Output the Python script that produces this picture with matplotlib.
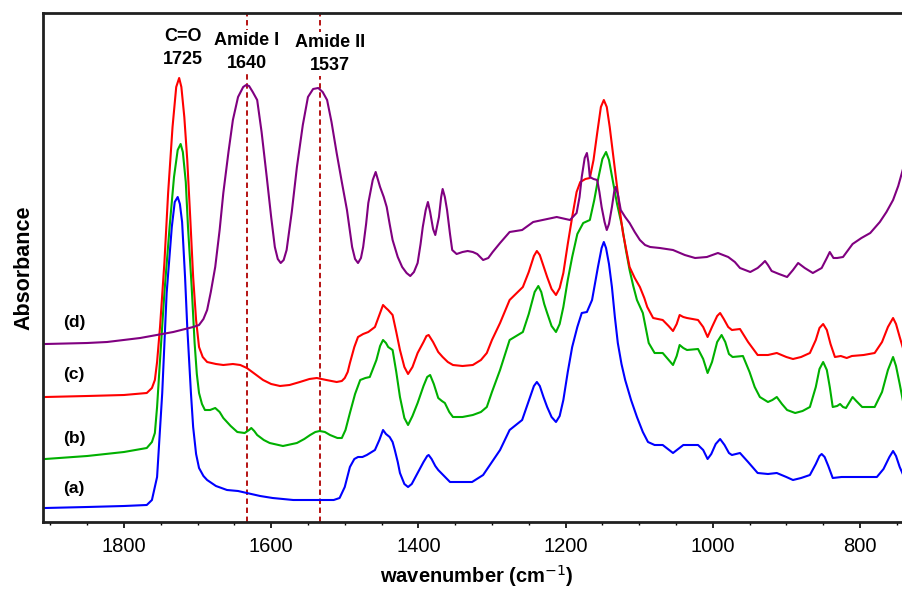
#!/usr/bin/env python3
"""FTIR spectra of the four samples, stacked with offsets."""

import matplotlib
matplotlib.use("Agg")
import matplotlib.pyplot as plt
from matplotlib.ticker import MultipleLocator

plt.rcParams["font.family"] = ["Liberation Sans", "DejaVu Sans"]

# wavenumber (cm-1) / absorbance (a.u., offset already included)
WN_A = [1907, 1850, 1800, 1769, 1762, 1755, 1748, 1742, 1735, 1731, 1727, 1724,
        1721, 1717, 1714, 1709, 1706, 1702, 1698, 1692, 1687, 1675, 1660, 1645,
        1633, 1615, 1598, 1570, 1534, 1515, 1507, 1500, 1493, 1487, 1482, 1476,
        1470, 1459, 1453, 1448, 1444, 1439, 1435, 1432, 1428, 1425, 1419, 1414,
        1409, 1401, 1393, 1388, 1386, 1382, 1377, 1373, 1365, 1357, 1340, 1327,
        1312, 1300, 1289, 1276, 1259, 1251, 1243, 1239, 1235, 1230, 1225, 1219,
        1213, 1208, 1203, 1197, 1191, 1184, 1178, 1171, 1164, 1156, 1151, 1148,
        1145, 1141, 1137, 1133, 1129, 1124, 1119, 1111, 1103, 1095, 1088, 1079,
        1068, 1061, 1054, 1047, 1040, 1020, 1013, 1007, 1002, 996, 990, 984,
        978, 974, 963, 952, 939, 925, 913, 900, 891, 880, 868, 860,
        855, 852, 848, 843, 837, 825, 811, 795, 777, 768, 760, 755,
        751, 746, 740]
ABS_A = [0.14, 0.15, 0.16, 0.17, 0.22, 0.45, 1.29, 2.29, 2.95, 3.20, 3.25, 3.18,
         3.00, 2.45, 1.95, 1.29, 0.95, 0.68, 0.54, 0.46, 0.42, 0.36, 0.32, 0.31,
         0.29, 0.26, 0.24, 0.22, 0.22, 0.22, 0.24, 0.35, 0.55, 0.63, 0.65, 0.65,
         0.67, 0.72, 0.82, 0.92, 0.88, 0.85, 0.80, 0.72, 0.60, 0.49, 0.38, 0.35,
         0.38, 0.49, 0.60, 0.66, 0.67, 0.63, 0.56, 0.52, 0.46, 0.40, 0.40, 0.40,
         0.47, 0.60, 0.72, 0.92, 1.02, 1.19, 1.36, 1.40, 1.36, 1.25, 1.15, 1.05,
         1.00, 1.06, 1.22, 1.50, 1.75, 1.95, 2.09, 2.10, 2.22, 2.55, 2.74, 2.80,
         2.74, 2.58, 2.35, 2.05, 1.79, 1.58, 1.42, 1.22, 1.05, 0.90, 0.80, 0.77,
         0.77, 0.73, 0.69, 0.73, 0.77, 0.77, 0.72, 0.63, 0.68, 0.78, 0.83, 0.77,
         0.69, 0.67, 0.69, 0.60, 0.49, 0.48, 0.49, 0.45, 0.42, 0.44, 0.47, 0.58,
         0.66, 0.68, 0.65, 0.56, 0.44, 0.45, 0.45, 0.45, 0.45, 0.53, 0.65, 0.71,
         0.66, 0.55, 0.45]

WN_B = [1907, 1850, 1800, 1769, 1762, 1758, 1755, 1751, 1745, 1738, 1732, 1727,
        1723, 1720, 1716, 1713, 1708, 1704, 1701, 1698, 1694, 1690, 1683, 1676,
        1670, 1665, 1655, 1646, 1636, 1630, 1627, 1623, 1619, 1610, 1602, 1584,
        1565, 1555, 1547, 1540, 1534, 1527, 1520, 1510, 1504, 1499, 1493, 1486,
        1479, 1472, 1466, 1457, 1452, 1448, 1444, 1441, 1435, 1430, 1425, 1419,
        1414, 1408, 1401, 1393, 1388, 1384, 1379, 1373, 1368, 1364, 1358, 1353,
        1340, 1326, 1315, 1307, 1300, 1289, 1276, 1258, 1250, 1242, 1237, 1233,
        1229, 1225, 1219, 1213, 1208, 1203, 1197, 1191, 1184, 1176, 1167, 1161,
        1156, 1150, 1145, 1141, 1136, 1130, 1123, 1118, 1113, 1108, 1103, 1095,
        1090, 1087, 1079, 1068, 1061, 1054, 1049, 1045, 1040, 1035, 1020, 1013,
        1007, 1001, 994, 988, 983, 978, 973, 959, 950, 943, 936, 925,
        919, 913, 906, 899, 888, 878, 868, 860, 855, 850, 845, 841,
        837, 831, 827, 823, 819, 814, 810, 805, 797, 780, 770, 762,
        755, 751, 746, 740]
ABS_B = [0.63, 0.66, 0.70, 0.74, 0.80, 0.89, 1.15, 1.62, 2.30, 2.95, 3.45, 3.72,
         3.78, 3.70, 3.40, 2.95, 2.35, 1.79, 1.48, 1.29, 1.18, 1.12, 1.12, 1.14,
         1.10, 1.04, 0.96, 0.90, 0.89, 0.92, 0.94, 0.91, 0.87, 0.82, 0.79, 0.76,
         0.79, 0.83, 0.87, 0.90, 0.91, 0.90, 0.87, 0.84, 0.84, 0.92, 1.09, 1.28,
         1.42, 1.44, 1.45, 1.62, 1.76, 1.82, 1.79, 1.75, 1.72, 1.50, 1.25, 1.04,
         0.97, 1.06, 1.19, 1.36, 1.45, 1.47, 1.38, 1.24, 1.21, 1.19, 1.10, 1.05,
         1.05, 1.07, 1.10, 1.15, 1.30, 1.52, 1.82, 1.90, 2.08, 2.30, 2.36, 2.30,
         2.18, 2.09, 1.96, 1.90, 1.98, 2.15, 2.42, 2.65, 2.88, 2.99, 3.02, 3.22,
         3.42, 3.63, 3.70, 3.62, 3.42, 3.18, 2.95, 2.72, 2.52, 2.36, 2.22, 2.09,
         1.90, 1.79, 1.69, 1.69, 1.63, 1.57, 1.66, 1.77, 1.74, 1.72, 1.73, 1.63,
         1.49, 1.60, 1.80, 1.87, 1.80, 1.68, 1.65, 1.66, 1.50, 1.35, 1.25, 1.20,
         1.22, 1.25, 1.18, 1.12, 1.09, 1.11, 1.15, 1.35, 1.53, 1.60, 1.52, 1.35,
         1.15, 1.16, 1.18, 1.15, 1.14, 1.20, 1.25, 1.21, 1.15, 1.15, 1.30, 1.52,
         1.65, 1.56, 1.38, 1.15]

WN_C = [1907, 1850, 1800, 1769, 1762, 1758, 1755, 1751, 1745, 1740, 1734, 1729,
        1725, 1722, 1718, 1714, 1710, 1706, 1702, 1698, 1693, 1687, 1675, 1665,
        1652, 1642, 1633, 1622, 1611, 1600, 1588, 1575, 1561, 1548, 1538, 1525,
        1511, 1504, 1500, 1496, 1493, 1487, 1482, 1475, 1468, 1459, 1453, 1448,
        1444, 1441, 1435, 1430, 1425, 1419, 1414, 1408, 1401, 1393, 1389, 1386,
        1380, 1373, 1367, 1360, 1353, 1340, 1326, 1315, 1307, 1300, 1289, 1276,
        1258, 1250, 1243, 1239, 1235, 1230, 1225, 1219, 1213, 1208, 1203, 1197,
        1191, 1185, 1180, 1173, 1167, 1162, 1157, 1152, 1148, 1144, 1140, 1135,
        1130, 1126, 1122, 1117, 1113, 1106, 1099, 1093, 1089, 1081, 1068, 1060,
        1054, 1049, 1045, 1040, 1035, 1020, 1013, 1007, 1001, 994, 990, 985,
        979, 974, 963, 952, 939, 925, 913, 900, 891, 880, 868, 860,
        855, 850, 845, 840, 834, 826, 818, 811, 795, 780, 770, 762,
        755, 751, 746, 740]
ABS_C = [1.25, 1.26, 1.27, 1.29, 1.34, 1.42, 1.60, 1.95, 2.60, 3.29, 3.95, 4.35,
         4.44, 4.35, 4.05, 3.62, 3.05, 2.45, 2.02, 1.75, 1.65, 1.60, 1.58, 1.57,
         1.58, 1.57, 1.54, 1.48, 1.42, 1.38, 1.36, 1.37, 1.40, 1.43, 1.44, 1.42,
         1.40, 1.41, 1.44, 1.50, 1.59, 1.75, 1.85, 1.88, 1.90, 1.95, 2.07, 2.17,
         2.14, 2.12, 2.07, 1.90, 1.72, 1.55, 1.48, 1.55, 1.69, 1.80, 1.86, 1.87,
         1.80, 1.70, 1.65, 1.60, 1.57, 1.56, 1.57, 1.62, 1.69, 1.82, 1.99, 2.22,
         2.35, 2.50, 2.66, 2.71, 2.67, 2.56, 2.45, 2.33, 2.27, 2.34, 2.49, 2.78,
         3.05, 3.30, 3.40, 3.43, 3.44, 3.62, 3.89, 4.15, 4.22, 4.15, 3.95, 3.65,
         3.35, 3.10, 2.89, 2.70, 2.55, 2.44, 2.35, 2.24, 2.15, 2.04, 2.02, 1.96,
         1.91, 1.98, 2.07, 2.05, 2.04, 2.02, 1.95, 1.85, 1.95, 2.06, 2.09, 2.03,
         1.95, 1.92, 1.93, 1.80, 1.67, 1.67, 1.69, 1.65, 1.63, 1.65, 1.69, 1.82,
         1.94, 1.98, 1.92, 1.78, 1.65, 1.66, 1.64, 1.66, 1.67, 1.69, 1.80, 1.95,
         2.04, 1.98, 1.85, 1.70]

WN_D = [1907, 1850, 1823, 1778, 1733, 1706, 1698, 1692, 1687, 1682, 1676, 1670,
        1665, 1658, 1652, 1645, 1638, 1634, 1630, 1625, 1619, 1613, 1606, 1600,
        1595, 1591, 1587, 1583, 1579, 1572, 1565, 1557, 1550, 1543, 1536, 1530,
        1524, 1518, 1511, 1504, 1497, 1490, 1486, 1482, 1478, 1475, 1471, 1468,
        1462, 1458, 1452, 1447, 1443, 1439, 1435, 1428, 1422, 1416, 1411, 1406,
        1401, 1397, 1394, 1390, 1387, 1384, 1380, 1377, 1372, 1369, 1367, 1364,
        1361, 1357, 1354, 1348, 1340, 1333, 1326, 1320, 1312, 1305, 1299, 1289,
        1276, 1259, 1244, 1225, 1212, 1200, 1194, 1185, 1181, 1178, 1174, 1171,
        1169, 1167, 1162, 1157, 1154, 1151, 1147, 1144, 1141, 1137, 1134, 1132,
        1129, 1125, 1119, 1113, 1106, 1099, 1092, 1085, 1072, 1063, 1054, 1038,
        1024, 1008, 993, 979, 970, 963, 949, 939, 933, 929, 925, 920,
        910, 899, 891, 884, 875, 864, 852, 845, 841, 836, 831, 823,
        816, 810, 798, 786, 773, 764, 755, 748, 740]
ABS_D = [1.78, 1.79, 1.80, 1.84, 1.90, 1.95, 1.97, 2.03, 2.12, 2.30, 2.55, 2.92,
         3.29, 3.70, 4.02, 4.25, 4.35, 4.37, 4.36, 4.30, 4.22, 3.90, 3.45, 3.05,
         2.75, 2.63, 2.59, 2.62, 2.72, 3.10, 3.55, 3.97, 4.25, 4.33, 4.34, 4.30,
         4.22, 4.00, 3.69, 3.40, 3.12, 2.75, 2.63, 2.59, 2.64, 2.75, 2.98, 3.19,
         3.42, 3.50, 3.35, 3.25, 3.15, 2.98, 2.82, 2.65, 2.55, 2.49, 2.46, 2.50,
         2.59, 2.78, 2.95, 3.12, 3.20, 3.10, 2.93, 2.87, 3.05, 3.25, 3.33, 3.25,
         3.12, 2.88, 2.72, 2.68, 2.70, 2.71, 2.70, 2.68, 2.62, 2.64, 2.70, 2.79,
         2.90, 2.92, 3.00, 3.03, 3.05, 3.03, 3.02, 3.09, 3.25, 3.45, 3.64, 3.69,
         3.60, 3.45, 3.43, 3.42, 3.30, 3.15, 3.00, 2.92, 2.98, 3.15, 3.30, 3.35,
         3.28, 3.12, 3.05, 2.99, 2.90, 2.82, 2.77, 2.75, 2.74, 2.73, 2.72, 2.67,
         2.64, 2.65, 2.69, 2.65, 2.60, 2.54, 2.50, 2.54, 2.58, 2.61, 2.57, 2.51,
         2.48, 2.45, 2.52, 2.59, 2.54, 2.49, 2.54, 2.64, 2.70, 2.64, 2.64, 2.65,
         2.72, 2.78, 2.84, 2.89, 3.00, 3.10, 3.22, 3.36, 3.57]

SERIES = [
    ("(a)", WN_A, ABS_A, "#0000ff", 0.34),
    ("(b)", WN_B, ABS_B, "#00b000", 0.84),
    ("(c)", WN_C, ABS_C, "#ff0000", 1.47),
    ("(d)", WN_D, ABS_D, "#800080", 1.99),
]

BAND_LINES = [1633, 1534]
BAND_LABELS = [
    ("C=O\n1725", 1720, 4.74),
    ("Amide I\n1640", 1633, 4.70),
    ("Amide II\n1537", 1520, 4.68),
]


def main() -> None:
    fig = plt.figure(figsize=(9.02, 5.91), dpi=100)
    ax = fig.add_axes([43 / 902, 69 / 591, 867 / 902, 509 / 591])

    for label, wn, a, color, ylab in SERIES:
        ax.plot(wn, a, color=color, lw=1.5, solid_joinstyle="round")
        ax.text(1868, ylab, label, fontsize=12.5, fontweight="bold",
                ha="center", va="center")

    for x in BAND_LINES:
        ax.axvline(x, color="#b00000", lw=1.3, ls=(0, (3, 2)), zorder=1)

    # labels sit on a white patch so the dashed guide lines break behind them
    for txt, x, y in BAND_LABELS:
        ax.text(x, y, txt, fontsize=13, fontweight="bold", ha="center",
                va="center", linespacing=1.5, zorder=3,
                bbox=dict(facecolor="white", edgecolor="none", pad=1.5))

    ax.set_xlim(1910, 732)
    ax.set_ylim(0, 5.09)
    ax.xaxis.set_major_locator(MultipleLocator(200))
    ax.xaxis.set_minor_locator(MultipleLocator(50))
    ax.tick_params(axis="x", which="major", length=4, width=1.2,
                   labelsize=14.5, pad=7, direction="out")
    ax.tick_params(axis="x", which="minor", length=2.5, width=1.0,
                   direction="out")
    ax.set_yticks([])
    for side in ("left", "bottom", "top"):
        ax.spines[side].set_linewidth(2.0)
        ax.spines[side].set_color("#202020")
    ax.spines["right"].set_visible(False)

    ax.set_xlabel("wavenumber (cm$^{-1}$)", fontsize=14.5, fontweight="bold",
                  labelpad=5)
    ax.set_ylabel("Absorbance", fontsize=15.5, fontweight="bold", labelpad=6)

    fig.savefig("out.png", dpi=100)


if __name__ == "__main__":
    main()
